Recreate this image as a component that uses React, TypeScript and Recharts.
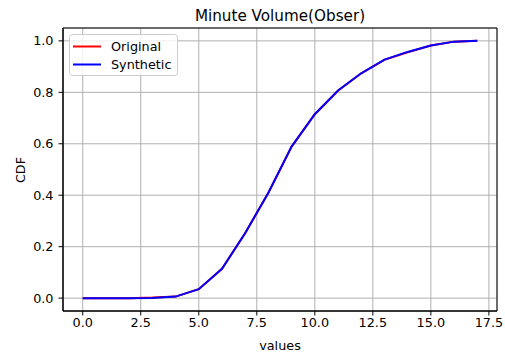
import React from 'react'
import { LineChart, Line, XAxis, YAxis, CartesianGrid, Legend, ReferenceArea, Customized } from 'recharts'

// CDF values, x = 0..17
const xValues = [0, 1, 2, 3, 4, 5, 6, 7, 8, 9, 10, 11, 12, 13, 14, 15, 16, 17]
const originalCdf = [0, 0, 0, 0.002, 0.006, 0.035, 0.114, 0.252, 0.41, 0.589, 0.715, 0.806, 0.874, 0.926, 0.956, 0.982, 0.997, 1.0]
const syntheticCdf = [0, 0, 0, 0.001, 0.006, 0.035, 0.114, 0.253, 0.41, 0.589, 0.715, 0.807, 0.874, 0.927, 0.957, 0.982, 0.997, 1.0]
const xTicks = [0, 2.5, 5, 7.5, 10, 12.5, 15, 17.5]
const yTicks = [0, 0.2, 0.4, 0.6, 0.8, 1.0]
const seriesNames = ['Original', 'Synthetic']
const seriesColors = ['#ff0000', '#0000ff']

const data = xValues.map((x, i) => ({ x, original: originalCdf[i], synthetic: syntheticCdf[i] }))

const FONT = '"DejaVu Sans", sans-serif'
const FS = 12.8
const tickStyle = { fill: '#000', fontSize: FS, fontFamily: FONT }

const renderLegend = () => (
  <svg width={109} height={42} style={{ display: 'block' }}>
    <rect x={0.5} y={0.5} width={108} height={41} rx={3} fill="rgba(255,255,255,0.8)" stroke="#cccccc" />
    {seriesNames.map((name, i) => (
      <g key={name}>
        <line x1={4} x2={32} y1={12.5 + i * 18} y2={12.5 + i * 18} stroke={seriesColors[i]} strokeWidth={2} />
        <text x={42} y={17 + i * 18} fontFamily={FONT} fontSize={FS} fill="#000">
          {name}
        </text>
      </g>
    ))}
  </svg>
)

const Title = () => (
  <text x={280} y={20.5} textAnchor="middle" fontFamily={FONT} fontSize={15.2} fill="#000">
    Minute Volume(Obser)
  </text>
)

const YLabel = () => (
  <text x={25} y={170} textAnchor="middle" fontFamily={FONT} fontSize={FS} fill="#000" transform="rotate(-90 25 170)">
    CDF
  </text>
)

const XLabel = () => (
  <text x={280} y={350} textAnchor="middle" fontFamily={FONT} fontSize={FS} fill="#000">
    values
  </text>
)

export default function App() {
  return (
    <div style={{ position: 'absolute', left: 0, top: 0, width: 505, height: 353, background: '#fff' }}>
      <LineChart width={505} height={353} data={data} margin={{ top: 28, right: 8, bottom: 0, left: 0 }}>
        <CartesianGrid stroke="#b0b0b0" strokeWidth={1} />
        <XAxis
          dataKey="x"
          type="number"
          domain={[-0.85, 17.85]}
          ticks={xTicks}
          tickFormatter={(v) => v.toFixed(1)}
          tick={tickStyle}
          tickSize={4.5}
          tickMargin={2}
          stroke="#000"
          height={42}
          allowDataOverflow
        />
        <YAxis
          type="number"
          domain={[-0.05, 1.05]}
          ticks={yTicks}
          tickFormatter={(v) => v.toFixed(1)}
          tick={tickStyle}
          tickSize={4.5}
          tickMargin={5}
          stroke="#000"
          width={63}
          allowDataOverflow
        />
        <ReferenceArea x1={-0.85} x2={17.85} y1={-0.05} y2={1.05} fill="none" stroke="#000" strokeWidth={1} ifOverflow="visible" />
        <Line dataKey="original" name="Original" stroke={seriesColors[0]} strokeWidth={2} dot={false} isAnimationActive={false} />
        <Line dataKey="synthetic" name="Synthetic" stroke={seriesColors[1]} strokeWidth={2} dot={false} isAnimationActive={false} />
        <Legend
          layout="vertical"
          align="center"
          verticalAlign="middle"
          content={renderLegend}
          wrapperStyle={{ left: 69, top: 34, width: 109, height: 42 }}
        />
        <Customized component={Title} />
        <Customized component={YLabel} />
        <Customized component={XLabel} />
      </LineChart>
    </div>
  )
}
